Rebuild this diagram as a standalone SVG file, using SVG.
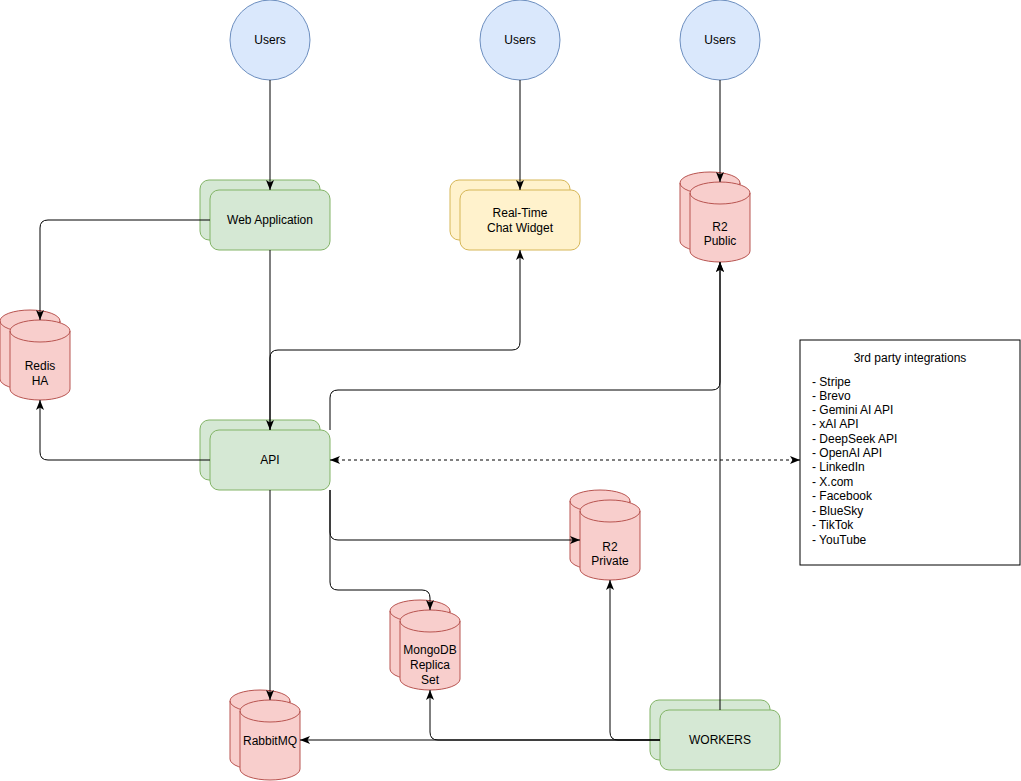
<svg xmlns="http://www.w3.org/2000/svg" width="1021" height="781" viewBox="0 0 1021 781">
<style>
text{font-family:"Liberation Sans",Arial,sans-serif;font-size:12px;fill:#000}
.c{text-anchor:middle}
.user{fill:#dae8fc;stroke:#6c8ebf}
.green{fill:#d5e8d4;stroke:#82b366}
.yellow{fill:#fff2cc;stroke:#d6b656}
.red{fill:#f8cecc;stroke:#b85450}
.edge{fill:none;stroke:#000;stroke-width:1}
</style>
<defs>
<marker id="arr" viewBox="0 0 10 8" refX="10" refY="4" markerWidth="10" markerHeight="8" markerUnits="userSpaceOnUse" orient="auto-start-reverse">
<path d="M0,0 L10,4 L0,8 L2.5,4 Z" fill="#000"/>
</marker>
<g id="cyl">
<path class="red" d="M0,11 A30,11 0 0 1 60,11 V69 A30,11 0 0 1 0,69 Z"/>
<path fill="none" stroke="#b85450" d="M0,11 A30,11 0 0 0 60,11"/>
</g>
</defs>

<g id="users1"><circle class="user" cx="270" cy="40" r="40"/><text class="c" x="270" y="44">Users</text></g>
<g id="users2"><circle class="user" cx="520" cy="40" r="40"/><text class="c" x="520" y="44">Users</text></g>
<g id="users3"><circle class="user" cx="720" cy="40" r="40"/><text class="c" x="720" y="44">Users</text></g>

<g id="webapp">
<rect class="green" x="200" y="180" width="120" height="60" rx="9"/>
<rect class="green" x="210" y="190" width="120" height="60" rx="9"/>
<text class="c" x="270" y="224">Web Application</text>
</g>
<g id="chat">
<rect class="yellow" x="450" y="180" width="120" height="60" rx="9"/>
<rect class="yellow" x="460" y="190" width="120" height="60" rx="9"/>
<text class="c" x="520" y="217">Real-Time</text>
<text class="c" x="520" y="232">Chat Widget</text>
</g>
<g id="r2public">
<use href="#cyl" x="680" y="172"/>
<use href="#cyl" x="690" y="182"/>
<text class="c" x="720" y="231">R2</text>
<text class="c" x="720" y="245">Public</text>
</g>
<g id="redis">
<use href="#cyl" x="0" y="310"/>
<use href="#cyl" x="10" y="320"/>
<text class="c" x="40" y="370">Redis</text>
<text class="c" x="40" y="385">HA</text>
</g>
<g id="api">
<rect class="green" x="200" y="420" width="120" height="60" rx="9"/>
<rect class="green" x="210" y="430" width="120" height="60" rx="9"/>
<text class="c" x="270" y="464">API</text>
</g>
<g id="r2private">
<use href="#cyl" x="570" y="490"/>
<use href="#cyl" x="580" y="500"/>
<text class="c" x="610" y="551">R2</text>
<text class="c" x="610" y="565">Private</text>
</g>
<g id="mongodb">
<use href="#cyl" x="390" y="600"/>
<use href="#cyl" x="400" y="610"/>
<text class="c" x="430" y="654">MongoDB</text>
<text class="c" x="430" y="669">Replica</text>
<text class="c" x="430" y="684">Set</text>
</g>
<g id="rabbitmq">
<use href="#cyl" x="230" y="690"/>
<use href="#cyl" x="240" y="700"/>
<text class="c" x="270" y="745">RabbitMQ</text>
</g>
<g id="workers">
<rect class="green" x="650" y="700" width="120" height="60" rx="9"/>
<rect class="green" x="660" y="710" width="120" height="60" rx="9"/>
<text class="c" x="720" y="744">WORKERS</text>
</g>
<g id="thirdparty">
<rect x="800" y="340" width="220" height="225" fill="#fff" stroke="#000"/>
<text class="c" x="910" y="362">3rd party integrations</text>
<text x="812" y="386">- Stripe</text>
<text x="812" y="400">- Brevo</text>
<text x="812" y="414">- Gemini AI API</text>
<text x="812" y="428">- xAI API</text>
<text x="812" y="443">- DeepSeek API</text>
<text x="812" y="457">- OpenAI API</text>
<text x="812" y="471">- LinkedIn</text>
<text x="812" y="486">- X.com</text>
<text x="812" y="500">- Facebook</text>
<text x="812" y="515">- BlueSky</text>
<text x="812" y="529">- TikTok</text>
<text x="812" y="544">- YouTube</text>
</g>

<g id="connectors">
<path class="edge" marker-end="url(#arr)" d="M270,80 V190"/>
<path class="edge" marker-end="url(#arr)" d="M520,80 V190"/>
<path class="edge" marker-end="url(#arr)" d="M720,80 V182"/>
<path class="edge" marker-end="url(#arr)" d="M210,220 H48 Q40,220 40,228 V320"/>
<path class="edge" marker-end="url(#arr)" d="M270,250 V430"/>
<path class="edge" marker-end="url(#arr)" d="M270,430 V358 Q270,350 278,350 H512 Q520,350 520,342 V250"/>
<path class="edge" marker-end="url(#arr)" d="M210,460 H48 Q40,460 40,452 V400"/>
<path class="edge" marker-end="url(#arr)" d="M330,430 V398 Q330,390 338,390 H712 Q720,390 720,382 V262"/>
<path class="edge" marker-start="url(#arr)" marker-end="url(#arr)" stroke-dasharray="3,3" d="M330,460 H800"/>
<path class="edge" marker-end="url(#arr)" d="M330,490 V532 Q330,540 338,540 H580"/>
<path class="edge" marker-end="url(#arr)" d="M330,490 V582 Q330,590 338,590 H422 Q430,590 430,598 V610"/>
<path class="edge" marker-end="url(#arr)" d="M270,490 V700"/>
<path class="edge" marker-end="url(#arr)" d="M720,710 V262"/>
<path class="edge" marker-end="url(#arr)" d="M660,740 H300"/>
<path class="edge" marker-end="url(#arr)" d="M660,740 H438 Q430,740 430,732 V690"/>
<path class="edge" marker-end="url(#arr)" d="M660,740 H618 Q610,740 610,732 V580"/>
</g>
</svg>
